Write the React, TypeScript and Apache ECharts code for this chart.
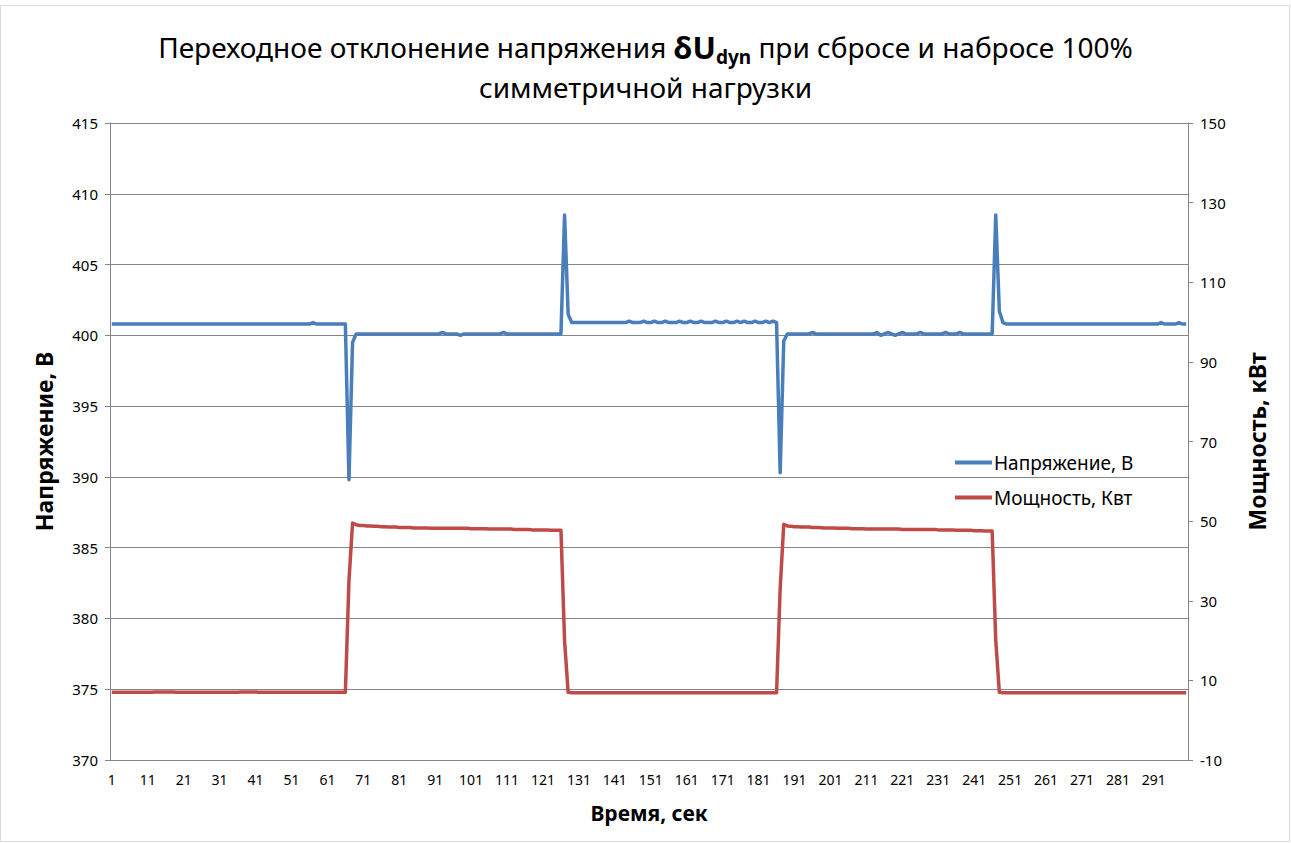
import React, { useEffect, useRef } from "react";
import * as echarts from "echarts";

const FONT = "'Noto Sans', 'DejaVu Sans', sans-serif";

// Sample numbers (seconds) 1..300
const categories: string[] = Array.from({ length: 300 }, (_, i) => String(i + 1));

// Voltage, V (left axis)
const voltage: number[] = [
  400.8, 400.8, 400.8, 400.8, 400.8, 400.8, 400.8, 400.8, 400.8, 400.8,
  400.8, 400.8, 400.8, 400.8, 400.8, 400.8, 400.8, 400.8, 400.8, 400.8,
  400.8, 400.8, 400.8, 400.8, 400.8, 400.8, 400.8, 400.8, 400.8, 400.8,
  400.8, 400.8, 400.8, 400.8, 400.8, 400.8, 400.8, 400.8, 400.8, 400.8,
  400.8, 400.8, 400.8, 400.8, 400.8, 400.8, 400.8, 400.8, 400.8, 400.8,
  400.8, 400.8, 400.8, 400.8, 400.8, 400.8, 400.9, 400.8, 400.8, 400.8,
  400.8, 400.8, 400.8, 400.8, 400.8, 400.8, 389.8, 399.5, 400.1, 400.1,
  400.1, 400.1, 400.1, 400.1, 400.1, 400.1, 400.1, 400.1, 400.1, 400.1,
  400.1, 400.1, 400.1, 400.1, 400.1, 400.1, 400.1, 400.1, 400.1, 400.1,
  400.1, 400.1, 400.2, 400.1, 400.1, 400.1, 400.1, 400.0, 400.1, 400.1,
  400.1, 400.1, 400.1, 400.1, 400.1, 400.1, 400.1, 400.1, 400.1, 400.2,
  400.1, 400.1, 400.1, 400.1, 400.1, 400.1, 400.1, 400.1, 400.1, 400.1,
  400.1, 400.1, 400.1, 400.1, 400.1, 400.1, 408.5, 401.5, 400.9, 400.9,
  400.9, 400.9, 400.9, 400.9, 400.9, 400.9, 400.9, 400.9, 400.9, 400.9,
  400.9, 400.9, 400.9, 400.9, 401.0, 400.9, 400.9, 400.9, 401.0, 400.9,
  400.9, 401.0, 400.9, 400.9, 401.0, 400.9, 400.9, 400.9, 401.0, 400.9,
  400.9, 401.0, 400.9, 400.9, 401.0, 400.9, 400.9, 400.9, 401.0, 400.9,
  400.9, 401.0, 400.9, 400.9, 401.0, 400.9, 401.0, 400.9, 400.9, 401.0,
  400.9, 400.9, 401.0, 400.9, 401.0, 400.9, 390.3, 399.6, 400.1, 400.1,
  400.1, 400.1, 400.1, 400.1, 400.1, 400.2, 400.1, 400.1, 400.1, 400.1,
  400.1, 400.1, 400.1, 400.1, 400.1, 400.1, 400.1, 400.1, 400.1, 400.1,
  400.1, 400.1, 400.1, 400.2, 400.0, 400.1, 400.2, 400.1, 400.0, 400.1,
  400.2, 400.1, 400.1, 400.1, 400.1, 400.2, 400.1, 400.1, 400.1, 400.1,
  400.1, 400.1, 400.2, 400.1, 400.1, 400.1, 400.2, 400.1, 400.1, 400.1,
  400.1, 400.1, 400.1, 400.1, 400.1, 400.1, 408.5, 401.7, 400.9, 400.8,
  400.8, 400.8, 400.8, 400.8, 400.8, 400.8, 400.8, 400.8, 400.8, 400.8,
  400.8, 400.8, 400.8, 400.8, 400.8, 400.8, 400.8, 400.8, 400.8, 400.8,
  400.8, 400.8, 400.8, 400.8, 400.8, 400.8, 400.8, 400.8, 400.8, 400.8,
  400.8, 400.8, 400.8, 400.8, 400.8, 400.8, 400.8, 400.8, 400.8, 400.8,
  400.8, 400.8, 400.9, 400.8, 400.8, 400.8, 400.8, 400.9, 400.8, 400.8,
];

// Power, kW (right axis)
const power: number[] = [
  7.0, 7.0, 7.0, 7.0, 7.0, 7.0, 7.0, 7.0, 7.0, 7.0,
  7.0, 7.0, 7.1, 7.1, 7.1, 7.1, 7.1, 7.1, 7.0, 7.0,
  7.0, 7.0, 7.0, 7.0, 7.0, 7.0, 7.0, 7.0, 7.0, 7.0,
  7.0, 7.0, 7.0, 7.0, 7.0, 7.0, 7.1, 7.1, 7.1, 7.1,
  7.1, 7.0, 7.0, 7.0, 7.0, 7.0, 7.0, 7.0, 7.0, 7.0,
  7.0, 7.0, 7.0, 7.0, 7.0, 7.0, 7.0, 7.0, 7.0, 7.0,
  7.0, 7.0, 7.0, 7.0, 7.0, 7.0, 35.0, 49.5, 49.1, 48.9,
  48.9, 48.8, 48.8, 48.7, 48.7, 48.6, 48.6, 48.5, 48.5, 48.5,
  48.4, 48.4, 48.4, 48.4, 48.3, 48.3, 48.3, 48.3, 48.3, 48.2,
  48.2, 48.2, 48.2, 48.2, 48.2, 48.2, 48.2, 48.2, 48.2, 48.2,
  48.1, 48.1, 48.1, 48.1, 48.1, 48.0, 48.0, 48.0, 48.0, 48.0,
  48.0, 48.0, 47.9, 47.9, 47.9, 47.9, 47.9, 47.8, 47.8, 47.8,
  47.8, 47.8, 47.7, 47.7, 47.7, 47.7, 20.0, 7.0, 6.9, 6.9,
  6.9, 6.9, 6.9, 6.9, 6.9, 6.9, 6.9, 6.9, 6.9, 6.9,
  6.9, 6.9, 6.9, 6.9, 6.9, 6.9, 6.9, 6.9, 6.9, 6.9,
  6.9, 6.9, 6.9, 6.9, 6.9, 6.9, 6.9, 6.9, 6.9, 6.9,
  6.9, 6.9, 6.9, 6.9, 6.9, 6.9, 6.9, 6.9, 6.9, 6.9,
  6.9, 6.9, 6.9, 6.9, 6.9, 6.9, 6.9, 6.9, 6.9, 6.9,
  6.9, 6.9, 6.9, 6.9, 6.9, 6.9, 33.0, 49.2, 48.8, 48.7,
  48.6, 48.6, 48.5, 48.5, 48.5, 48.4, 48.4, 48.4, 48.3, 48.3,
  48.3, 48.3, 48.2, 48.2, 48.2, 48.2, 48.1, 48.1, 48.1, 48.1,
  48.0, 48.0, 48.0, 48.0, 48.0, 48.0, 48.0, 48.0, 48.0, 48.0,
  47.9, 47.9, 47.9, 47.9, 47.9, 47.9, 47.9, 47.9, 47.9, 47.9,
  47.8, 47.8, 47.8, 47.8, 47.8, 47.7, 47.7, 47.7, 47.7, 47.7,
  47.6, 47.6, 47.6, 47.5, 47.5, 47.5, 20.0, 7.0, 6.9, 6.9,
  6.9, 6.9, 6.9, 6.9, 6.9, 6.9, 6.9, 6.9, 6.9, 6.9,
  6.9, 6.9, 6.9, 6.9, 6.9, 6.9, 6.9, 6.9, 6.9, 6.9,
  6.9, 6.9, 6.9, 6.9, 6.9, 6.9, 6.9, 6.9, 6.9, 6.9,
  6.9, 6.9, 6.9, 6.9, 6.9, 6.9, 6.9, 6.9, 6.9, 6.9,
  6.9, 6.9, 6.9, 6.9, 6.9, 6.9, 6.9, 6.9, 6.9, 6.9,
];

const seriesNames = ["Напряжение, В", "Мощность, Квт"];
const titleLine1 = "Переходное отклонение напряжения {b|δU}{s|dyn} при сбросе и набросе 100%";
const titleLine2 = "симметричной нагрузки";
const GRID_COLOR = "#868686";

export default function App() {
  const ref = useRef<HTMLDivElement>(null);

  useEffect(() => {
    document.body.style.margin = "0";
    const chart = echarts.init(ref.current!, null, { renderer: "svg" });
    chart.setOption({
      animation: false,
      backgroundColor: "#ffffff",
      title: [
        {
          text: titleLine1,
          left: "center",
          top: 28,
          padding: 0,
          textStyle: {
            fontFamily: FONT,
            fontSize: 28,
            fontWeight: "normal",
            color: "#000",
            lineHeight: 32,
            rich: {
              b: { fontFamily: FONT, fontSize: 31, fontWeight: "bold", color: "#000", lineHeight: 32 },
              s: {
                fontFamily: FONT,
                fontSize: 19,
                fontWeight: "bold",
                color: "#000",
                lineHeight: 38,
                verticalAlign: "bottom",
              },
            },
          },
        },
        {
          text: titleLine2,
          left: "center",
          top: 75,
          padding: 0,
          textStyle: {
            fontFamily: FONT,
            fontSize: 28,
            fontWeight: "normal",
            color: "#000",
            lineHeight: 24,
          },
        },
      ],
      graphic: [
        {
          type: "rect",
          shape: { x: 0.5, y: 5.5, width: 1289, height: 836 },
          style: { fill: "none", stroke: "#d9d9d9", lineWidth: 1 },
          silent: true,
        },
      ],
      legend: {
        orient: "vertical",
        left: 950,
        top: 448,
        icon: "rect",
        itemWidth: 37,
        itemHeight: 4,
        itemGap: 16,
        data: seriesNames,
        textStyle: { fontFamily: FONT, fontSize: 19, color: "#000", padding: [0, 0, 0, -3] },
      },
      grid: { left: 110, right: 103, top: 123, bottom: 83, containLabel: false },
      xAxis: {
        type: "category",
        data: categories,
        boundaryGap: true,
        axisLine: { show: true, onZero: false, lineStyle: { color: GRID_COLOR, width: 1 } },
        axisTick: { show: false },
        axisLabel: { interval: 9, fontFamily: FONT, fontSize: 14, color: "#000", margin: 12 },
        splitLine: { show: false },
        name: "Время, сек",
        nameLocation: "middle",
        nameGap: 42,
        nameTextStyle: { fontFamily: FONT, fontSize: 21, fontWeight: "bold", color: "#000" },
      },
      yAxis: [
        {
          type: "value",
          min: 370,
          max: 415,
          interval: 5,
          position: "left",
          axisLine: { show: true, lineStyle: { color: GRID_COLOR, width: 1 } },
          axisTick: { show: true, length: 5, lineStyle: { color: GRID_COLOR } },
          axisLabel: { fontFamily: FONT, fontSize: 15, color: "#000", margin: 12 },
          splitLine: { show: true, lineStyle: { color: GRID_COLOR, width: 1 } },
          name: "Напряжение, В",
          nameLocation: "middle",
          nameRotate: 90,
          nameGap: 55,
          nameTextStyle: { fontFamily: FONT, fontSize: 23, fontWeight: "bold", color: "#000" },
        },
        {
          type: "value",
          min: -10,
          max: 150,
          interval: 20,
          position: "right",
          axisLine: { show: true, lineStyle: { color: GRID_COLOR, width: 1 } },
          axisTick: { show: true, length: 5, lineStyle: { color: GRID_COLOR } },
          axisLabel: { fontFamily: FONT, fontSize: 15, color: "#000", margin: 12 },
          splitLine: { show: false },
          name: "Мощность, кВт",
          nameLocation: "middle",
          nameRotate: 90,
          nameGap: 57,
          nameTextStyle: { fontFamily: FONT, fontSize: 23, fontWeight: "bold", color: "#000" },
        },
      ],
      series: [
        {
          name: seriesNames[0],
          type: "line",
          yAxisIndex: 0,
          data: voltage,
          symbol: "none",
          showSymbol: false,
          lineStyle: { color: "#4a7ebb", width: 3.5, join: "round" },
          itemStyle: { color: "#4a7ebb" },
          z: 3,
        },
        {
          name: seriesNames[1],
          type: "line",
          yAxisIndex: 1,
          data: power,
          symbol: "none",
          showSymbol: false,
          lineStyle: { color: "#be4b48", width: 3.5, join: "round" },
          itemStyle: { color: "#be4b48" },
          z: 2,
        },
      ],
    });
    return () => chart.dispose();
  }, []);

  return <div ref={ref} style={{ width: 1291, height: 843 }} />;
}
